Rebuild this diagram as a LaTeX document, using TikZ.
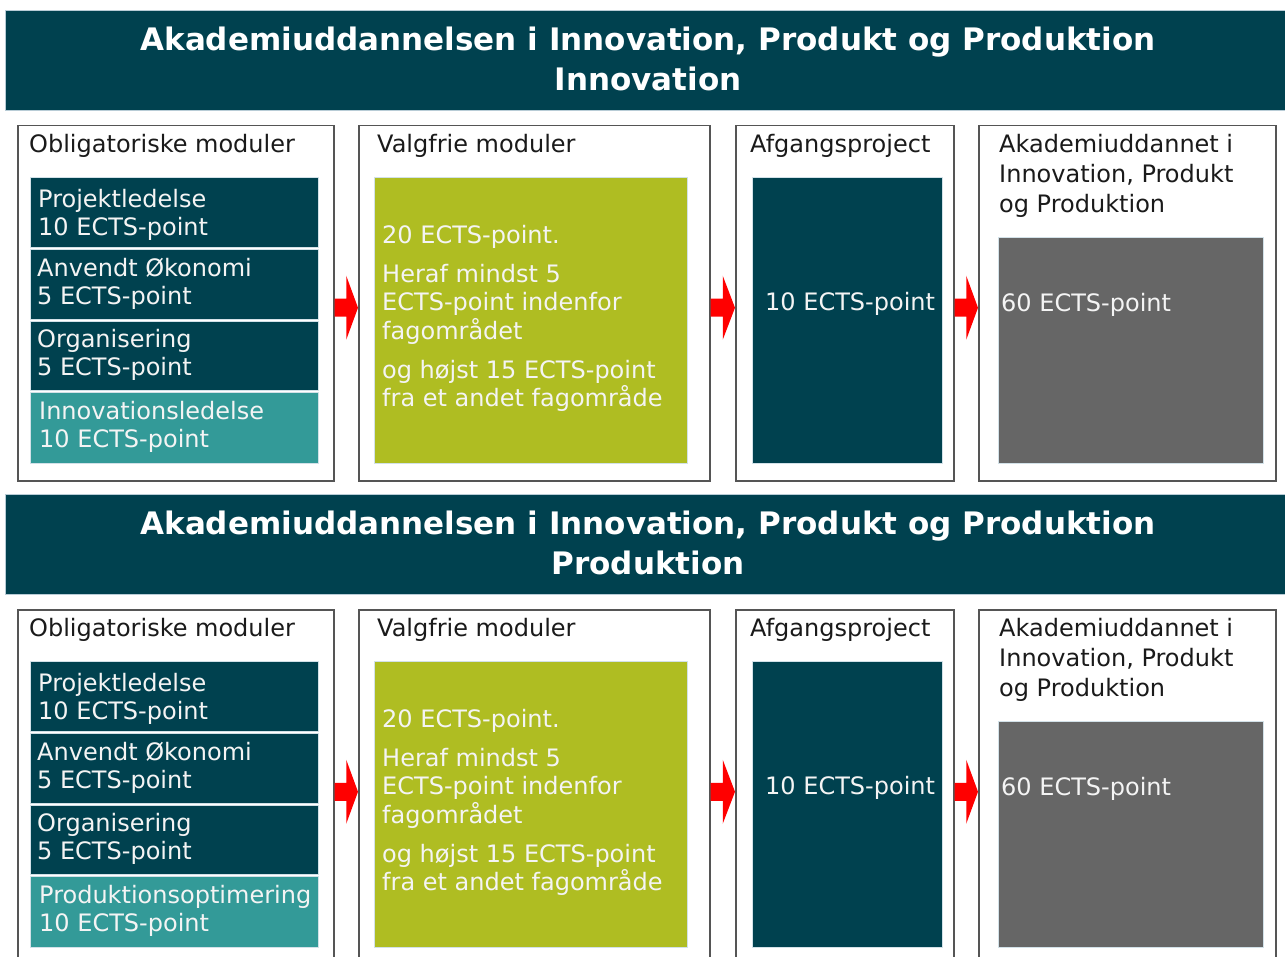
\documentclass[tikz,border=0pt]{standalone}
\usepackage{fontspec}
\setmainfont{DejaVu Sans}
\usetikzlibrary{calc}
\definecolor{hdr}{HTML}{00414F}
\definecolor{hdrline}{HTML}{B8CCD6}
\definecolor{sep}{HTML}{D2E1E8}
\definecolor{tealc}{HTML}{339A98}
\definecolor{olive}{HTML}{AFBD22}
\definecolor{grayc}{HTML}{666666}
\definecolor{boxline}{HTML}{555555}
\definecolor{arrowred}{HTML}{FF0000}
\definecolor{txtdark}{HTML}{1A1A1A}
\definecolor{txtlight}{HTML}{F4F4F4}
\newcommand\bodyfont{\fontsize{24}{28.5}\selectfont}
\newcommand\hdrfont{\fontsize{31}{40}\selectfont\bfseries}
\newcommand\bst{\rule{0pt}{22pt}}
\newcommand\hst{\rule{0pt}{30pt}}
\tikzset{
  hdrbox/.style={fill=hdr, draw=hdrline, line width=1pt, anchor=north west, inner sep=0pt},
  outerbox/.style={draw=boxline, line width=1.5pt, fill=white, anchor=north west, inner sep=0pt},
  modbox/.style={fill=hdr, draw=sep, line width=1.2pt, anchor=north west, inner sep=0pt},
  modboxlight/.style={modbox, fill=tealc},
  greenbox/.style={fill=olive, draw=sep, line width=1pt, anchor=north west, inner sep=0pt},
  afgbox/.style={fill=hdr, draw=sep, line width=1pt, anchor=north west, inner sep=0pt},
  graybox/.style={fill=grayc, draw=sep, line width=1pt, anchor=north west, inner sep=0pt},
  titletxt/.style={inner sep=0pt, anchor=north west, align=left, font=\bodyfont, text=txtdark},
  intxt/.style={inner sep=0pt, anchor=north west, align=left, font=\bodyfont, text=txtlight},
  hdrtxt/.style={inner sep=0pt, anchor=north, align=center, font=\hdrfont, text=white}
}
\newcommand\redarrow[2]{%
  \coordinate (s) at ($(#1.east)+(0,4.5)$);
  \coordinate (t) at ($(#2.west)+(0,4.5)$);
  \coordinate (m) at ($(s)!0.5!(t)$);
  \fill[arrowred] ($(s)+(0,-9)$) -- ($(m)+(0,-9)$) -- ($(m)+(0,-32)$) -- (t)
    -- ($(m)+(0,32)$) -- ($(m)+(0,9)$) -- ($(s)+(0,9)$) -- cycle;
}
% #1 suffix, #2 header second line, #3 fourth module
\newcommand\panelrow[3]{%
  \node[hdrbox, minimum width=1290pt, minimum height=100pt] (hdr#1) at (5,10) {};
  \node[hdrtxt] (hdrt#1) at (648,20) {\hst Akademiuddannelsen i Innovation, Produkt og Produktion\\#2};
  \node[outerbox, minimum width=316pt, minimum height=355pt] (oa#1) at (17,125) {};
  \node[outerbox, minimum width=351pt, minimum height=355pt] (ob#1) at (358,125) {};
  \node[outerbox, minimum width=218pt, minimum height=355pt] (oc#1) at (735,125) {};
  \node[outerbox, minimum width=297pt, minimum height=355pt] (od#1) at (978,125) {};
  \node[titletxt] (ta#1) at (29,130) {\bst Obligatoriske moduler};
  \node[titletxt] (tb#1) at (377,130) {\bst Valgfrie moduler};
  \node[titletxt] (tc#1) at (750,130) {\bst Afgangsproject};
  \node[titletxt] (td#1) at (999,130) {\bst Akademiuddannet i\\[1.5pt]Innovation, Produkt\\[1.5pt]og Produktion};
  \node[modbox, minimum width=288pt, minimum height=70pt] (m1#1) at (29.5,177) {};
  \node[modbox, minimum width=288pt, minimum height=70pt] (m2#1) at (29.5,249) {};
  \node[modbox, minimum width=288pt, minimum height=69pt] (m3#1) at (29.5,321) {};
  \node[modboxlight, minimum width=288pt, minimum height=71pt] (m4#1) at (29.5,392) {};
  \node[intxt] (mt1#1) at (38,185) {\bst Projektledelse\\10 ECTS-point};
  \node[intxt] (mt2#1) at (37,254) {\bst Anvendt Økonomi\\5 ECTS-point};
  \node[intxt] (mt3#1) at (37,325) {\bst Organisering\\5 ECTS-point};
  \node[intxt] (mt4#1) at (39,397) {\bst #3\\10 ECTS-point};
  \node[greenbox, minimum width=313pt, minimum height=286pt] (g#1) at (374,177) {};
  \node[intxt] (gt#1) at (382,221) {\bst 20 ECTS-point.\\[10.5pt]Heraf mindst 5\\ECTS-point indenfor\\fagområdet\\[10.5pt]og højst 15 ECTS-point\\fra et andet fagområde};
  \node[afgbox, minimum width=190pt, minimum height=286pt] (a#1) at (752,177) {};
  \node[intxt] (at#1) at (765,288) {\bst 10 ECTS-point};
  \node[graybox, minimum width=265pt, minimum height=226pt] (gr#1) at (998,237) {};
  \node[intxt] (grt#1) at (1001,289) {\bst 60 ECTS-point};
  \redarrow{oa#1}{ob#1}
  \redarrow{ob#1}{oc#1}
  \redarrow{oc#1}{od#1}
}
\begin{document}
\begin{tikzpicture}[x=1pt, y=-1pt]
  \useasboundingbox (0,0) rectangle (1285,957);
  \clip (0,0) rectangle (1285,957);
  \fill[white] (0,0) rectangle (1285,957);
  \panelrow{A}{Innovation}{Innovationsledelse}
  \begin{scope}[yshift=-484pt]
    \panelrow{B}{Produktion}{Produktionsoptimering}
  \end{scope}
\end{tikzpicture}
\end{document}
